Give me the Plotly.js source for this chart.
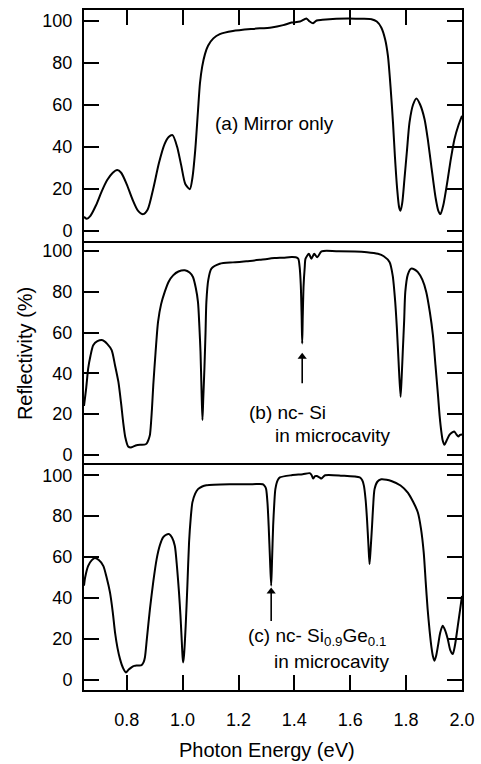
<!DOCTYPE html>
<html>
<head>
<meta charset="utf-8">
<script src="https://cdn.plot.ly/plotly-3.0.1.min.js"></script>
<style>html,body{margin:0;padding:0;background:#fff;}#chart{width:481px;height:764px;}</style>
</head>
<body>
<div id="chart"></div>
<script>
// (a) Mirror only
const energyA = [0.647,0.657,0.670,0.690,0.710,0.730,0.750,0.766,0.780,0.800,0.820,0.840,0.859,0.875,0.895,0.915,0.935,0.950,0.964,0.980,0.995,1.010,1.026,1.035,1.045,1.055,1.062,1.070,1.080,1.091,1.110,1.133,1.180,1.250,1.318,1.360,1.390,1.420,1.443,1.455,1.467,1.480,1.500,1.550,1.592,1.640,1.676,1.695,1.711,1.725,1.735,1.745,1.753,1.760,1.768,1.775,1.780,1.786,1.794,1.803,1.812,1.825,1.837,1.850,1.866,1.878,1.890,1.905,1.915,1.923,1.933,1.949,1.960,1.973,1.987,2.000];
const reflA = [6.5,5.6,7,12,18.5,24,27.5,28.8,27.5,22,15,9.5,7.8,10,20,32,41,44.5,45.4,40,31,22,19.7,25,38,57,70,78,84,88,91.5,93.5,95,96,96.7,97.8,99,99.5,101,99.5,98.7,100,100.3,100.8,101,100.8,100.6,99.5,96.7,91,83,67,51.4,35,19.7,11,9.4,13,24.5,38,51.4,60,62.9,60,53,43,30.8,16,9.5,7.8,12,24.5,34,43.5,50,54.6];

// (b) nc-Si in microcavity
const energyB = [0.647,0.655,0.662,0.670,0.680,0.695,0.714,0.730,0.746,0.758,0.770,0.780,0.787,0.795,0.805,0.815,0.823,0.835,0.850,0.863,0.871,0.878,0.883,0.890,0.895,0.903,0.912,0.923,0.936,0.950,0.966,0.985,1.008,1.025,1.037,1.047,1.055,1.060,1.064,1.068,1.071,1.074,1.078,1.082,1.085,1.092,1.103,1.133,1.180,1.228,1.280,1.329,1.360,1.390,1.405,1.414,1.419,1.423,1.426,1.428,1.430,1.433,1.437,1.440,1.452,1.461,1.471,1.482,1.497,1.550,1.616,1.660,1.699,1.720,1.741,1.752,1.761,1.767,1.773,1.780,1.784,1.788,1.793,1.797,1.806,1.818,1.830,1.842,1.858,1.872,1.885,1.896,1.905,1.914,1.920,1.926,1.931,1.937,1.945,1.955,1.965,1.973,1.980,1.987,1.993,2.000];
const reflB = [24,33,42.4,48.5,53.8,55.8,56.3,54.5,51.4,44,35.9,25,16.3,8.5,4.1,3.6,4,4.7,4.9,5,5.5,7.5,9.8,22,34.3,50,65.3,74,80,85,88.1,90,90.6,89.5,87.3,82,75,63,50.6,30,17.1,28,42.4,60,75,86,91.4,93.8,94.5,95,95.8,96.6,96.8,97.1,97,96.3,92,83.2,68,54.7,68,83,92,96.3,98.7,96.3,98.7,97,99.9,100,99.9,99.5,98.7,97.5,94.6,88,75,62,45.7,28.5,38,50.6,66,80,88.5,91.4,91,89.7,86,80,70,58.7,44,29.4,19,11.4,7,4.9,7,9.8,11,11.4,10,9,9.8,10];

// (c) nc-Si0.9Ge0.1 in microcavity
const energyC = [0.647,0.651,0.662,0.675,0.686,0.700,0.716,0.728,0.740,0.750,0.758,0.767,0.776,0.786,0.797,0.807,0.817,0.827,0.835,0.845,0.853,0.860,0.865,0.872,0.883,0.895,0.907,0.918,0.930,0.942,0.952,0.962,0.972,0.980,0.987,0.992,0.996,1.000,1.002,1.005,1.011,1.017,1.023,1.029,1.035,1.045,1.055,1.070,1.085,1.168,1.250,1.287,1.295,1.299,1.304,1.308,1.313,1.317,1.320,1.324,1.328,1.332,1.340,1.348,1.390,1.430,1.455,1.462,1.467,1.474,1.480,1.490,1.497,1.510,1.570,1.634,1.643,1.649,1.655,1.660,1.665,1.669,1.673,1.678,1.682,1.687,1.697,1.711,1.730,1.747,1.780,1.806,1.825,1.842,1.853,1.863,1.870,1.877,1.884,1.890,1.896,1.901,1.907,1.914,1.922,1.931,1.940,1.949,1.958,1.967,1.975,1.985,1.993,2.000];
const reflC = [46,50,55.7,58.5,59.5,58.5,55.7,50,42.7,33,23.2,15.5,10.1,6,3.6,5,6.1,6.8,7,7,7.2,8.5,10.9,20,34.5,48,59,65.5,69.6,71,71.2,69.5,65.5,55,42.7,32,21.5,11,8.5,12,26.4,46,67.1,79,86.7,91,93.2,94.5,95.1,95.6,95.6,95.6,94.5,93.2,86,75.2,58,46,58,75.2,86,93.2,97.5,98.9,100,100.5,101,100,98.4,99.5,99.6,98.9,98.4,100,99.8,98.9,97.5,94.8,88,78.5,66,56.5,64,75.2,85,93.2,96.8,98,97.8,97.2,95,91.5,87,81.8,74,62.2,48,34.5,24,16.6,11.5,9.3,11.5,16.6,23,26.4,24,19.9,14.5,12.6,17,26.4,34,41];

const xTickVals = [0.8,1.0,1.2,1.4,1.6,1.8,2.0];
const xTickText = ["0.8","1.0","1.2","1.4","1.6","1.8","2.0"];
const yTickVals = [0,20,40,60,80,100];
const yTickText = ["0","20","40","60","80","100"];
const panelLabels = ["(a) Mirror only","(b) nc- Si","in microcavity","(c) nc- Si<sub>0.9</sub>Ge<sub>0.1</sub>","in microcavity"];
const xTitle = "Photon Energy (eV)";
const yTitle = "Reflectivity (%)";
// arrows marking the cavity modes: [energy, head R, tail R]
const peakB = [1.428, 50.4, 35.2];
const peakC = [1.317, 45.3, 28.7];

const FONT = "Liberation Sans, Arial, Helvetica, sans-serif";
const lineStyle = {color:"#000", width:2, shape:"spline", smoothing:0.7};

function arrowTraces(p, xa, ya){
  return [
    {x:[p[0], p[0]], y:[p[2], p[1]-2.5], xaxis:xa, yaxis:ya, mode:"lines",
     line:{color:"#000", width:1.6}, hoverinfo:"skip"},
    {x:[p[0]], y:[p[1]-2.2], xaxis:xa, yaxis:ya, mode:"markers",
     marker:{symbol:"triangle-up", size:8, color:"#000", line:{width:0}}, hoverinfo:"skip"}
  ];
}

const traces = [
  {x:energyA, y:reflA, xaxis:"x", yaxis:"y", mode:"lines", line:lineStyle, hoverinfo:"skip"},
  {x:energyB, y:reflB, xaxis:"x2", yaxis:"y2", mode:"lines", line:lineStyle, hoverinfo:"skip"},
  {x:energyC, y:reflC, xaxis:"x3", yaxis:"y3", mode:"lines", line:lineStyle, hoverinfo:"skip"}
].concat(arrowTraces(peakB, "x2", "y2"), arrowTraces(peakC, "x3", "y3"));

const xRange = [0.647, 2.0];
function xAx(extra){
  return Object.assign({range:xRange, showline:true, linecolor:"#000", linewidth:2, mirror:true,
    showgrid:false, zeroline:false, tickvals:xTickVals, ticktext:xTickText,
    ticklen:15, tickwidth:2, tickcolor:"#000", fixedrange:true}, extra);
}
function yAx(domain, anchor){
  return {domain:domain, anchor:anchor, range:[-5,105], showline:true, linecolor:"#000", linewidth:2,
    mirror:"ticks", ticks:"inside", ticklen:15, tickwidth:2, tickcolor:"#000",
    tickvals:yTickVals, ticktext:yTickText, showgrid:false, zeroline:false,
    ticklabelstandoff:6, fixedrange:true};
}
const dA = [0.6603, 1.0], dB = [0.3309, 0.6603], dC = [0.0, 0.3309];

const annFont = {family:FONT, size:19, color:"#000"};
const titleFont = {family:FONT, size:20, color:"#000"};
const layout = {
  width:481, height:764,
  margin:{l:84, r:19, t:10, b:74, pad:0},
  paper_bgcolor:"#fff", plot_bgcolor:"#fff",
  showlegend:false,
  font:{family:FONT, size:18, color:"#000"},
  xaxis: xAx({anchor:"y", side:"top", ticks:"inside", showticklabels:false}),
  xaxis2: xAx({anchor:"y2", ticks:"", showticklabels:false, showline:false}),
  xaxis3: xAx({anchor:"y3", side:"bottom", ticks:"inside", showticklabels:true, ticklabelstandoff:12}),
  yaxis: yAx(dA, "x"),
  yaxis2: yAx(dB, "x2"),
  yaxis3: yAx(dC, "x3"),
  annotations:[
    {xref:"paper", yref:"paper", x:0.3413, y:0.8338, xanchor:"left", yanchor:"middle", text:panelLabels[0], showarrow:false, font:annFont},
    {xref:"paper", yref:"paper", x:0.4312, y:0.4088, xanchor:"left", yanchor:"middle", text:panelLabels[1], showarrow:false, font:annFont},
    {xref:"paper", yref:"paper", x:0.5, y:0.375, xanchor:"left", yanchor:"middle", text:panelLabels[2], showarrow:false, font:annFont},
    {xref:"paper", yref:"paper", x:0.4286, y:0.0779, xanchor:"left", yanchor:"middle", text:panelLabels[3], showarrow:false, font:annFont},
    {xref:"paper", yref:"paper", x:0.4974, y:0.0412, xanchor:"left", yanchor:"middle", text:panelLabels[4], showarrow:false, font:annFont},
    {xref:"paper", yref:"paper", x:-0.156, y:0.494, xanchor:"center", yanchor:"middle", text:yTitle, textangle:-90, showarrow:false, font:titleFont},
    {xref:"paper", yref:"paper", x:0.484, y:-0.0882, xanchor:"center", yanchor:"middle", text:xTitle, showarrow:false, font:titleFont}
  ]
};

Plotly.newPlot("chart", traces, layout, {staticPlot:true, displayModeBar:false});
</script>
</body>
</html>
